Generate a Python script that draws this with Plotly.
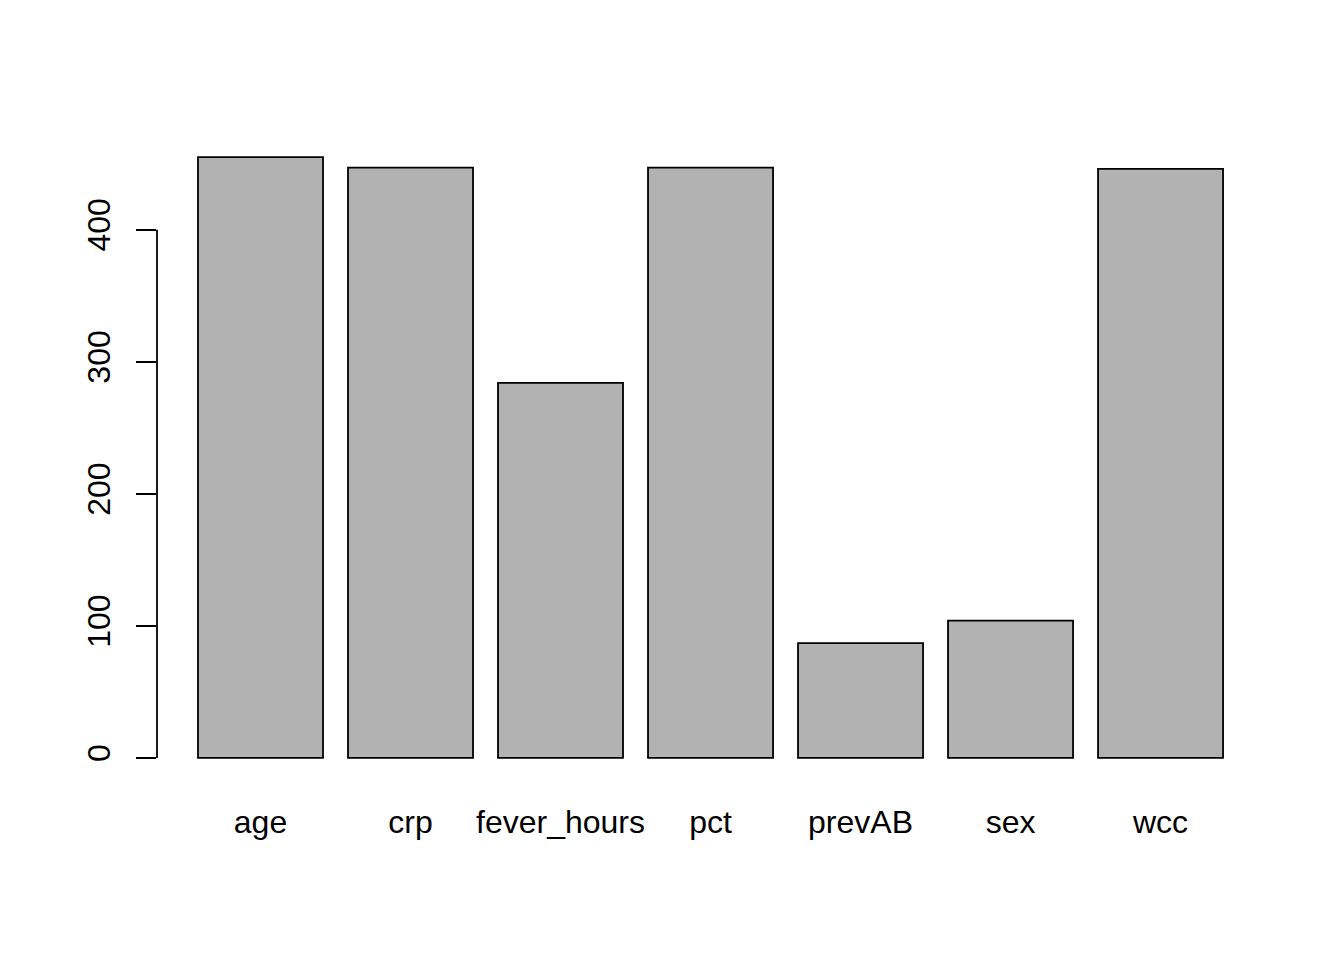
import plotly.graph_objects as go

categories = ["age", "crp", "fever_hours", "pct", "prevAB", "sex", "wcc"]
counts = [455, 447, 284, 447, 87, 104, 446]
y_ticks = [0, 100, 200, 300, 400]

FONT = "Liberation Sans, Arial, Helvetica, sans-serif"

fig = go.Figure()
fig.add_trace(go.Bar(
    x=categories, y=counts,
    width=0.8333,
    marker=dict(color="#B2B2B2", line=dict(color="black", width=1.8)),
))

# y axis line from 0 to 400 only (R style)
fig.add_shape(type="line", xref="paper", yref="y", x0=0, x1=0,
              y0=y_ticks[0], y1=y_ticks[-1], line=dict(color="black", width=1.8))

fig.update_layout(
    width=1344, height=960,
    margin=dict(l=149, r=89, t=125, b=186),
    paper_bgcolor="white", plot_bgcolor="white",
    showlegend=False,
    font=dict(family=FONT, size=32, color="black"),
    xaxis=dict(range=[-0.69, 6.683], showgrid=False, zeroline=False,
               showline=False, ticks="", tickfont=dict(size=32),
               ticklabelstandoff=18),
    yaxis=dict(range=[-18.2, 473.2], tickvals=y_ticks, showgrid=False,
               zeroline=False, showline=False, ticks="outside", ticklen=20,
               tickwidth=1.8, tickcolor="black", tickangle=-90,
               tickfont=dict(size=32), ticklabelstandoff=13),
)

fig.write_html("out.html")
